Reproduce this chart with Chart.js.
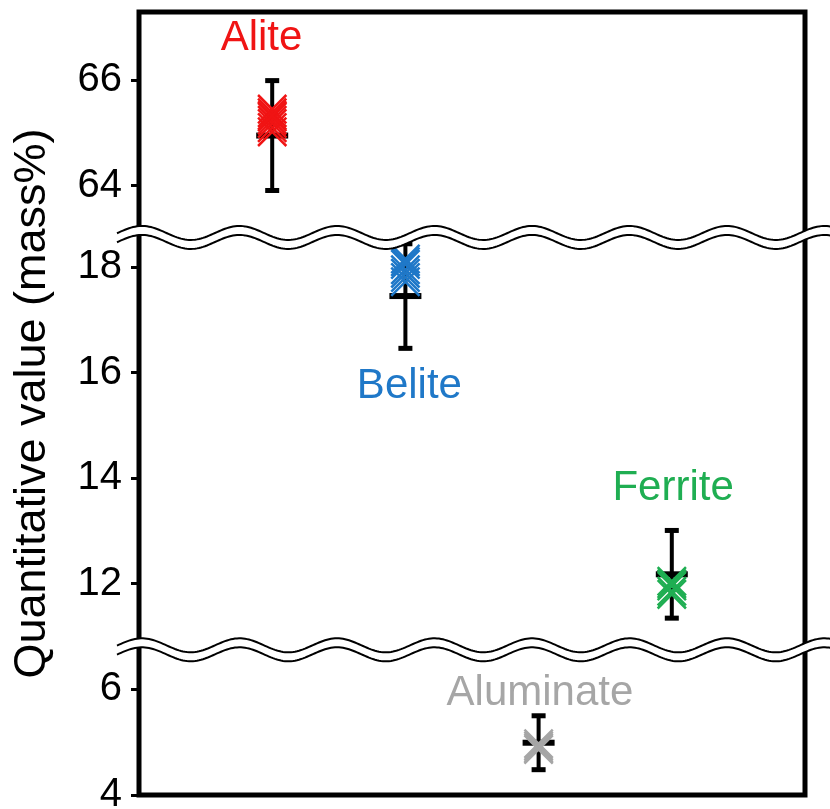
<!DOCTYPE html>
<html>
<head>
<meta charset="utf-8">
<script src="https://cdn.jsdelivr.net/npm/chart.js@4"></script>
<style>
  html, body { margin: 0; padding: 0; background: #fff; }
  #wrap { width: 830px; height: 809px; }
</style>
</head>
<body>
<div id="wrap"><canvas id="phaseChart"></canvas></div>
<script>
// phases and their place along the (hidden) x axis
var phases = ['Alite', 'Belite', 'Aluminate', 'Ferrite'];
var phaseX = [1, 2, 3, 4];

// single quantitative results (mass%)
var aliteRuns = [65.45, 65.38, 65.3, 65.24, 65.18, 65.1, 65.02, 65.33];
var beliteRuns = [18.15, 18.05, 17.95, 17.88, 17.8, 17.72, 18.1];
var aluminateRuns = [4.97, 4.93, 4.89, 4.86];
var ferriteRuns = [12.05, 11.96, 11.86, 11.8, 12.0];

// mean and error bar half-length, same order as phases
var means = [64.95, 17.45, 4.99, 12.18];
var errors = [1.05, 1.0, 0.52, 0.84];

var tickValues = [4, 6, 12, 14, 16, 18, 64, 66];

var phaseColors = ['#f01414', '#1f78c8', '#a6a6a6', '#1fae52'];

// broken axis: 4..6.75 | 10.75..18.56 | 63.02..
var lowBreak = 6.75, midStart = 10.75, midBreak = 18.56, topStart = 63.02;
var gap1 = midStart - lowBreak;
var gap2 = topStart - midBreak;

function toAxis(v) {
  if (v <= lowBreak) return v;
  if (v <= midBreak) return v - gap1;
  return v - gap1 - gap2;
}
function fromAxis(a) {
  if (a <= lowBreak + 0.001) return a;
  if (a <= midBreak - gap1 + 0.001) return a + gap1;
  return a + gap1 + gap2;
}

var runs = [aliteRuns, beliteRuns, aluminateRuns, ferriteRuns];
var datasets = phases.map(function (name, i) {
  return {
    label: name,
    data: runs[i].map(function (v) { return { x: phaseX[i], y: toAxis(v) }; }),
    pointStyle: 'crossRot',
    radius: 20,
    borderWidth: 2.5,
    borderColor: phaseColors[i],
    backgroundColor: phaseColors[i],
    clip: false
  };
});

function wave(ctx, x0, x1, y, amp, phase0, period, back) {
  var step = 2;
  if (!back) {
    for (var x = x0; x <= x1; x += step) {
      var yy = y - amp * Math.cos(2 * Math.PI * (x - phase0) / period);
      if (x === x0) ctx.moveTo(x, yy); else ctx.lineTo(x, yy);
    }
  } else {
    for (var x = x1; x >= x0; x -= step) {
      ctx.lineTo(x, y - amp * Math.cos(2 * Math.PI * (x - phase0) / period));
    }
  }
}

var decorations = {
  id: 'decorations',
  beforeDatasetsDraw: function (chart) {
    var ctx = chart.ctx, a = chart.chartArea;
    var xs = chart.scales.x, ys = chart.scales.y;
    ctx.save();
    ctx.strokeStyle = '#000';
    ctx.lineWidth = 5;
    ctx.strokeRect(a.left, a.top, a.right - a.left, a.bottom - a.top);

    // error bars
    ctx.fillStyle = '#000';
    for (var i = 0; i < phases.length; i++) {
      var px = xs.getPixelForValue(phaseX[i]);
      var yHi = ys.getPixelForValue(toAxis(means[i] + errors[i]));
      var yLo = ys.getPixelForValue(toAxis(means[i] - errors[i]));
      var yM = ys.getPixelForValue(toAxis(means[i]));
      ctx.fillRect(px - 2, yHi, 4, yLo - yHi);
      ctx.fillRect(px - 7, yHi - 2, 14, 5);
      ctx.fillRect(px - 7, yLo - 3, 14, 5);
      ctx.fillRect(px - 16, yM - 3, 32, 6);
    }
    ctx.restore();
  },
  afterDatasetsDraw: function (chart, args, opts) {
    var ctx = chart.ctx, a = chart.chartArea;
    var xs = chart.scales.x, ys = chart.scales.y;
    ctx.save();

    // phase names
    ctx.font = '42px "Liberation Sans", Arial, sans-serif';
    ctx.textAlign = 'center';
    ctx.textBaseline = 'alphabetic';
    opts.labels.forEach(function (lb, i) {
      ctx.fillStyle = phaseColors[i];
      ctx.fillText(phases[i], xs.getPixelForValue(lb.x), ys.getPixelForValue(toAxis(lb.y)));
    });

    // axis break marks
    var x0 = a.left - 22, x1 = chart.width + 4;
    var phase0 = a.left + 3, period = 97.5, amp = 7, half = 4.5;
    [lowBreak, midBreak - gap1].forEach(function (bv) {
      var yc = ys.getPixelForValue(bv);
      ctx.beginPath();
      wave(ctx, x0, x1, yc - half, amp, phase0, period, false);
      wave(ctx, x0, x1, yc + half, amp, phase0, period, true);
      ctx.closePath();
      ctx.fillStyle = '#fff';
      ctx.fill();
      ctx.strokeStyle = '#000';
      ctx.lineWidth = 2;
      ctx.beginPath();
      wave(ctx, x0, x1, yc - half, amp, phase0, period, false);
      ctx.stroke();
      ctx.beginPath();
      wave(ctx, x0, x1, yc + half, amp, phase0, period, false);
      ctx.stroke();
    });
    ctx.restore();
  }
};

var ctx = document.getElementById('phaseChart').getContext('2d');

var phaseChart = new Chart(ctx, {
  type: 'scatter',
  data: { datasets: datasets },
  plugins: [decorations],
  options: {
    responsive: true,
    maintainAspectRatio: false,
    animation: false,
    layout: { autoPadding: false, padding: { top: 12, right: 25, bottom: 14, left: 0 } },
    plugins: {
      legend: { display: false },
      tooltip: { enabled: false },
      decorations: {
        labels: [
          { x: 0.92, y: 66.57 },
          { x: 2.03, y: 15.52 },
          { x: 3.01, y: 5.7 },
          { x: 4.01, y: 13.59 }
        ]
      }
    },
    scales: {
      x: {
        type: 'linear',
        display: false,
        min: 0,
        max: 5
      },
      y: {
        type: 'linear',
        min: 4,
        max: 18.83,
        afterFit: function (s) {
          s.width = 139;
          s.paddingTop = 0;
          s.paddingBottom = 0;
        },
        afterBuildTicks: function (s) {
          s.ticks = tickValues.map(function (v) { return { value: toAxis(v) }; });
        },
        ticks: {
          color: '#000',
          padding: 9,
          font: { family: '"Liberation Sans", Arial, sans-serif', size: 40 },
          callback: function (value) { return Math.round(fromAxis(value)); }
        },
        grid: {
          drawOnChartArea: false,
          tickLength: 8,
          tickWidth: 3,
          tickColor: '#000'
        },
        border: { display: false },
        title: {
          display: true,
          text: 'Quantitative value (mass%)',
          color: '#000',
          padding: { top: 6, bottom: 0 },
          font: { family: '"Liberation Sans", Arial, sans-serif', size: 45 }
        }
      }
    }
  }
});
</script>
</body>
</html>
